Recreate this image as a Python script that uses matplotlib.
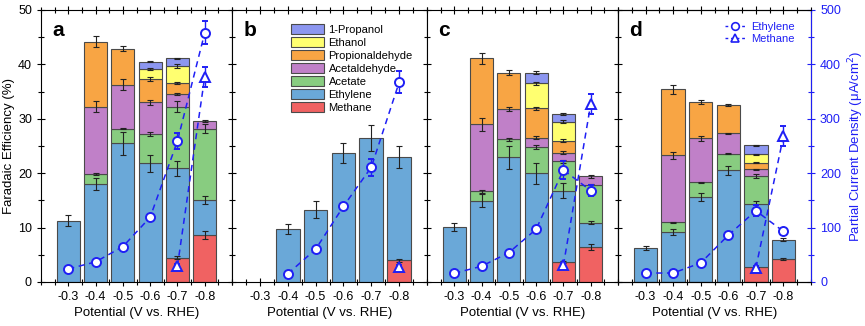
import numpy as np
import matplotlib
matplotlib.use('Agg')
import matplotlib.pyplot as plt
from matplotlib.patches import Patch
from matplotlib.lines import Line2D
from matplotlib.ticker import MultipleLocator

plt.rcParams['font.family'] = ['Liberation Sans', 'DejaVu Sans']

potential = [-0.3, -0.4, -0.5, -0.6, -0.7, -0.8]
products = ['Methane', 'Ethylene', 'Acetate', 'Acetaldehyde', 'Propionaldehyde', 'Ethanol', '1-Propanol']
colors = ['#F06262', '#6AA8D8', '#88CC80', '#C080C8', '#F8A544', '#FFFF70', '#8C96F0']
panel_names = ['a', 'b', 'c', 'd']

# Faradaic efficiency (%) rows follow 'products', columns follow 'potential'
fe_a = [[0, 0, 0, 0, 4.5, 8.6],
        [11.25, 18.0, 25.5, 21.8, 16.4, 6.5],
        [0, 1.9, 2.7, 5.4, 11.3, 13.1],
        [0, 12.3, 8.1, 5.8, 2.4, 1.4],
        [0, 12.0, 6.6, 4.3, 2.0, 0],
        [0, 0, 0, 1.8, 3.1, 0],
        [0, 0, 0, 1.4, 1.4, 0]]
fe_a_err = [[0, 0, 0, 0, 0.2, 0.7],
            [1.0, 1.1, 2.1, 1.6, 1.4, 0.7],
            [0, 0.2, 0.1, 0.4, 1.0, 0.8],
            [0, 1.0, 1.0, 0.4, 0.2, 0.2],
            [0, 1.0, 0.4, 0.3, 0.2, 0],
            [0, 0, 0, 0.2, 0.3, 0],
            [0, 0, 0, 0.1, 0.1, 0]]

fe_b = [[0, 0, 0, 0, 0, 4.0],
        [0, 9.7, 13.3, 23.7, 26.4, 19.0],
        [0, 0, 0, 0, 0, 0],
        [0, 0, 0, 0, 0, 0],
        [0, 0, 0, 0, 0, 0],
        [0, 0, 0, 0, 0, 0],
        [0, 0, 0, 0, 0, 0]]
fe_b_err = [[0, 0, 0, 0, 0, 0.3],
            [0, 0.9, 1.6, 1.8, 2.4, 2.0],
            [0, 0, 0, 0, 0, 0],
            [0, 0, 0, 0, 0, 0],
            [0, 0, 0, 0, 0, 0],
            [0, 0, 0, 0, 0, 0],
            [0, 0, 0, 0, 0, 0]]

fe_c = [[0, 0, 0, 0, 3.7, 6.4],
        [10.1, 14.9, 22.9, 20.0, 13.1, 4.5],
        [0, 1.8, 3.3, 4.8, 5.4, 6.9],
        [0, 12.3, 5.6, 1.7, 1.6, 1.6],
        [0, 12.1, 6.7, 5.4, 2.2, 0],
        [0, 0, 0, 4.6, 3.5, 0],
        [0, 0, 0, 2.0, 1.4, 0]]
fe_c_err = [[0, 0, 0, 0, 0.2, 0.6],
            [0.8, 1.2, 2.1, 1.9, 1.4, 0.3],
            [0, 0.3, 0.2, 0.3, 0.3, 0.3],
            [0, 1.2, 0.4, 0.3, 0.2, 0.2],
            [0, 1.0, 0.4, 0.3, 0.2, 0],
            [0, 0, 0, 0.3, 0.3, 0],
            [0, 0, 0, 0.2, 0.2, 0]]

fe_d = [[0, 0, 0, 0, 2.7, 4.2],
        [6.3, 9.2, 15.6, 20.5, 11.6, 3.6],
        [0, 1.8, 2.7, 3.1, 5.2, 0],
        [0, 12.3, 8.1, 3.7, 1.2, 0],
        [0, 12.1, 6.7, 5.2, 1.2, 0],
        [0, 0, 0, 0, 1.6, 0],
        [0, 0, 0, 0, 1.6, 0]]
fe_d_err = [[0, 0, 0, 0, 0.1, 0.2],
            [0.4, 0.6, 0.7, 0.9, 0.5, 0.2],
            [0, 0.1, 0.05, 0.1, 0.4, 0],
            [0, 0.6, 0.4, 0.1, 0.1, 0],
            [0, 0.8, 0.3, 0.2, 0.1, 0],
            [0, 0, 0, 0, 0.1, 0],
            [0, 0, 0, 0, 0.1, 0]]

# partial current density (uA/cm2)
j_eth_a = [24, 37, 65, 119, 259, 458]
j_eth_a_err = [4, 4, 4, 5, 15, 21]
j_met_a = [np.nan, np.nan, np.nan, np.nan, 29, 377]
j_met_a_err = [0, 0, 0, 0, 4, 18]

j_eth_b = [np.nan, 15, 60, 139, 211, 367]
j_eth_b_err = [0, 4, 4, 5, 16, 20]
j_met_b = [np.nan, np.nan, np.nan, np.nan, np.nan, 27]
j_met_b_err = [0, 0, 0, 0, 0, 4]

j_eth_c = [16, 29, 54, 97, 206, 168]
j_eth_c_err = [4, 4, 3, 4, 16, 10]
j_met_c = [np.nan, np.nan, np.nan, np.nan, 31, 327]
j_met_c_err = [0, 0, 0, 0, 4, 19]

j_eth_d = [16.5, 16.5, 35, 86, 131, 93]
j_eth_d_err = [4, 4, 4, 4, 10, 4]
j_met_d = [np.nan, np.nan, np.nan, np.nan, 26, 268]
j_met_d_err = [0, 0, 0, 0, 4, 18]

fe_all = [fe_a, fe_b, fe_c, fe_d]
fe_err_all = [fe_a_err, fe_b_err, fe_c_err, fe_d_err]
j_eth_all = [j_eth_a, j_eth_b, j_eth_c, j_eth_d]
j_eth_err_all = [j_eth_a_err, j_eth_b_err, j_eth_c_err, j_eth_d_err]
j_met_all = [j_met_a, j_met_b, j_met_c, j_met_d]
j_met_err_all = [j_met_a_err, j_met_b_err, j_met_c_err, j_met_d_err]

blue = '#1F1FF5'
W, H = 865, 326
fig = plt.figure(figsize=(W / 100, H / 100), dpi=100)
edges = [41, 232, 427, 618, 811]
top, bottom = 10, 282

x = np.array(potential)
for p in range(4):
    ax = fig.add_axes([edges[p] / W, 1 - bottom / H, (edges[p + 1] - edges[p]) / W, (bottom - top) / H])
    base = np.zeros(len(x))
    for k in range(len(products)):
        vals = np.array(fe_all[p][k], dtype=float)
        errs = np.array(fe_err_all[p][k], dtype=float)
        m = vals > 0
        if m.any():
            ax.bar(x[m], vals[m], bottom=base[m], width=0.085, color=colors[k],
                   edgecolor='#4A4A4A', linewidth=0.8, zorder=2)
            ax.errorbar(x[m], (base + vals)[m], yerr=errs[m], fmt='none', ecolor='#222222',
                        elinewidth=0.8, capsize=2.2, capthick=0.8, zorder=3)
        base = base + vals

    ax.set_xlim(-0.2, -0.9)
    ax.set_ylim(0, 50)
    ax.set_xticks(potential)
    ax.set_xticklabels(['%.1f' % v for v in potential])
    ax.xaxis.set_minor_locator(MultipleLocator(0.05))
    ax.yaxis.set_major_locator(MultipleLocator(10))
    ax.yaxis.set_minor_locator(MultipleLocator(5))
    ax.tick_params(which='both', direction='inout', top=True, right=(p < 3), labelsize=9, width=0.8)
    ax.tick_params(which='major', length=6)
    ax.tick_params(which='minor', length=4)
    if p > 0:
        ax.tick_params(labelleft=False)
    else:
        ax.set_ylabel('Faradaic Efficiency (%)', fontsize=9.5, labelpad=2)
    ax.set_xlabel('Potential (V vs. RHE)', fontsize=9.5, labelpad=3)
    ax.text(0.06, 0.96, panel_names[p], transform=ax.transAxes, fontsize=15,
            fontweight='bold', va='top', ha='left')

    ax2 = ax.twinx()
    ax2.set_ylim(0, 500)
    ax2.errorbar(x, j_eth_all[p], yerr=j_eth_err_all[p], color=blue, ls=(0, (4, 3)), lw=1.1,
                 marker='o', ms=6.5, mfc='white', mec=blue, mew=1.4,
                 ecolor=blue, elinewidth=1.0, capsize=2.5, capthick=1.0, zorder=5)
    ax2.errorbar(x, j_met_all[p], yerr=j_met_err_all[p], color=blue, ls=(0, (4, 3)), lw=1.1,
                 marker='^', ms=7, mfc='white', mec=blue, mew=1.4,
                 ecolor=blue, elinewidth=1.0, capsize=2.5, capthick=1.0, zorder=5)
    if p < 3:
        ax2.axis('off')
    else:
        ax2.yaxis.set_major_locator(MultipleLocator(100))
        ax2.yaxis.set_minor_locator(MultipleLocator(50))
        ax2.tick_params(which='both', direction='inout', colors=blue, labelsize=9, width=0.8)
        ax2.tick_params(which='major', length=6)
        ax2.tick_params(which='minor', length=4)
        ax2.spines['right'].set_color(blue)
        ax2.set_ylabel('Partial Current Density (\u03bcA/cm$^2$)', color=blue, fontsize=9.5, labelpad=4)
        handles = [Line2D([], [], color=blue, ls=(0, (2, 2)), lw=1.0, marker='o', ms=5.5,
                          mfc='white', mec=blue, mew=1.2),
                   Line2D([], [], color=blue, ls=(0, (2, 2)), lw=1.0, marker='^', ms=6,
                          mfc='white', mec=blue, mew=1.2)]
        leg = ax2.legend(handles, ['Ethylene', 'Methane'], loc='upper right', frameon=False,
                         fontsize=8, handlelength=1.8, handletextpad=0.5, labelspacing=0.2,
                         borderaxespad=0.4, bbox_to_anchor=(0.96, 0.99))
        for t in leg.get_texts():
            t.set_color(blue)

    if p == 1:
        patch_handles = [Patch(facecolor=colors[k], edgecolor='#4A4A4A', linewidth=0.8)
                         for k in range(len(products) - 1, -1, -1)]
        ax.legend(patch_handles, products[::-1], loc='upper left', bbox_to_anchor=(0.25, 0.985),
                  frameon=False, fontsize=8, handlelength=3.0, handleheight=1.0,
                  labelspacing=0.2, handletextpad=0.4)

fig.savefig('out.png', dpi=100)
